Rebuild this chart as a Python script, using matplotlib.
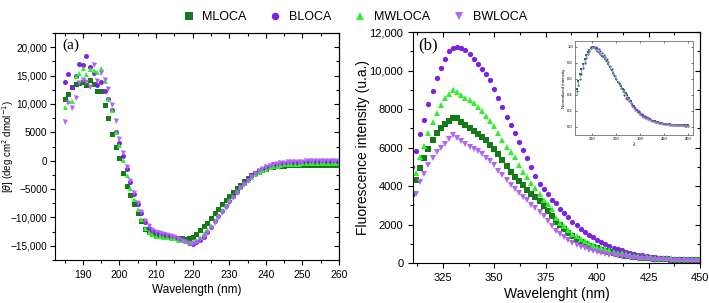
import numpy as np
import matplotlib
matplotlib.use('Agg')
import matplotlib.pyplot as plt
from matplotlib.ticker import MultipleLocator, FuncFormatter

plt.rcParams['font.family'] = ['Liberation Sans', 'DejaVu Sans']

#%% CD spectra (185-260 nm, 1 nm step)
cd_wl = np.arange(185, 261, 1)

cd_mloca = [10800, 11700, 13000, 13600, 13700, 13900, 13400, 14200, 13500, 12200,
            12200, 9900, 7600, 4700, 2500, 500, -2100, -4400, -6100, -7700,
            -9200, -10600, -12000, -12600, -13000, -13100, -13200, -13200, -13300, -13400,
            -13500, -13600, -13700, -13800, -13700, -13400, -12900, -12300, -11600, -10900,
            -10100, -9300, -8500, -7700, -6900, -6200, -5500, -4800, -4200, -3600,
            -3100, -2600, -2200, -1900, -1600, -1400, -1200, -1100, -1000, -900,
            -850, -800, -780, -760, -740, -720, -710, -700, -700, -700,
            -700, -700, -700, -700, -700, -700]
cd_bloca = [13800, 15300, 13000, 14900, 17000, 16900, 18500, 16600, 15500, 13300,
            13800, 12300, 10800, 8900, 5000, 3100, 800, -1500, -3700, -5800,
            -7600, -9300, -10800, -11800, -12300, -12600, -12800, -12900, -13100, -13300,
            -13500, -13700, -13900, -14200, -14500, -14600, -14400, -14000, -13400, -12600,
            -11700, -10700, -9800, -8900, -8000, -7100, -6300, -5500, -4700, -4000,
            -3300, -2700, -2200, -1800, -1400, -1100, -850, -650, -500, -400,
            -330, -280, -240, -210, -190, -170, -150, -140, -130, -120,
            -120, -120, -120, -130, -130, -130]
cd_mwloca = [9500, 10500, 10600, 15000, 15500, 16300, 15300, 16200, 15900, 15600,
             16400, 14000, 10900, 9000, 5000, 2700, 200, -2500, -4800, -6800,
             -8600, -10300, -11800, -12600, -13000, -13200, -13300, -13400, -13500, -13600,
             -13700, -13900, -14000, -14200, -14300, -14200, -13900, -13400, -12800, -12100,
             -11300, -10500, -9600, -8700, -7800, -7000, -6200, -5400, -4700, -4000,
             -3400, -2900, -2400, -2000, -1700, -1400, -1200, -1000, -850, -750,
             -650, -600, -550, -520, -500, -480, -460, -450, -440, -430,
             -420, -420, -410, -410, -400, -400]
cd_bwloca = [6800, 10200, 9300, 11000, 13700, 14300, 13900, 13000, 16800, 14000,
             15500, 14200, 12600, 9800, 7000, 3900, 1300, -1200, -3600, -5700,
             -7500, -9100, -10600, -11600, -12200, -12600, -12800, -12900, -13100, -13300,
             -13500, -13800, -14100, -14400, -14600, -14600, -14400, -14000, -13400, -12700,
             -11900, -11000, -10100, -9200, -8300, -7400, -6500, -5700, -4900, -4200,
             -3500, -2900, -2400, -1900, -1500, -1200, -950, -750, -600, -480,
             -380, -300, -250, -200, -170, -150, -130, -110, -100, -100,
             -100, -100, -100, -110, -110, -110]

#%% fluorescence spectra (310-450 nm, 2 nm step)
fl_wl = np.arange(310, 451, 2)

fl_mloca = [3600, 4300, 4950, 5450, 5950, 6400, 6750, 7000, 7250, 7400,
            7550, 7550, 7350, 7150, 7000, 6850, 6700, 6550, 6380, 6150,
            5900, 5650, 5350, 5050, 4750, 4470, 4250, 4050, 3800, 3600,
            3430, 3200, 2950, 2700, 2450, 2150, 1950, 1750, 1550, 1380,
            1230, 1100, 990, 900, 830, 760, 690, 630, 570, 520,
            470, 430, 390, 355, 325, 300, 275, 255, 235, 220,
            205, 195, 185, 175, 165, 160, 155, 150, 145, 140, 135]
fl_bloca = [5000, 5800, 6700, 7450, 8250, 8950, 9600, 10150, 10600, 11000,
            11200, 11250, 11150, 11050, 10850, 10600, 10350, 10100, 9800, 9500,
            9050, 8550, 8100, 7600, 7150, 6750, 6300, 5850, 5450, 5000,
            4500, 4100, 3850, 3600, 3300, 3100, 2800, 2600, 2400, 2150,
            1950, 1750, 1600, 1450, 1350, 1200, 1100, 980, 880, 790,
            710, 650, 590, 540, 490, 440, 400, 360, 330, 300,
            270, 250, 235, 220, 210, 200, 190, 185, 180, 175, 170]
fl_mwloca = [3800, 4700, 5500, 6100, 6750, 7350, 7800, 8200, 8550, 8800,
             8980, 8900, 8750, 8600, 8460, 8300, 8100, 7900, 7650, 7400,
             7100, 6750, 6400, 6050, 5750, 5500, 5100, 4750, 4450, 4150,
             3900, 3600, 3300, 3050, 2800, 2350, 2100, 1900, 1700, 1520,
             1380, 1250, 1130, 1020, 930, 850, 780, 710, 650, 590,
             540, 495, 455, 420, 390, 360, 335, 315, 300, 285,
             270, 260, 250, 240, 232, 225, 220, 215, 210, 205, 200]
fl_bwloca = [2900, 3600, 4200, 4650, 5100, 5450, 5750, 6000, 6200, 6450,
             6640, 6500, 6350, 6200, 6050, 5950, 5800, 5650, 5450, 5300,
             5100, 4800, 4550, 4300, 4050, 3850, 3650, 3450, 3250, 3000,
             2850, 2650, 2450, 2200, 1900, 1650, 1500, 1350, 1200, 1060,
             950, 850, 770, 700, 640, 590, 530, 480, 435, 395,
             360, 330, 300, 275, 250, 230, 210, 195, 180, 165,
             155, 145, 135, 128, 122, 116, 112, 108, 104, 100, 97]

names = ['MLOCA', 'BLOCA', 'MWLOCA', 'BWLOCA']
colors = ['#167A16', '#7A22E0', '#33EE2E', '#B066F0']
markers = ['s', 'o', '^', 'v']
cd_data = [cd_mloca, cd_bloca, cd_mwloca, cd_bwloca]
fl_data = [fl_mloca, fl_bloca, fl_mwloca, fl_bwloca]


def thousands(v, pos):
    if abs(v) >= 10000:
        s = '{:,.0f}'.format(abs(v))
    else:
        s = '{:.0f}'.format(abs(v))
    return ('\u2212' + s) if v < 0 else s


def mirror_ticks(ax, xmaj, xmin, ymaj, ymin):
    ax.tick_params(which='both', direction='out', labelsize=7.5, width=0.8)
    ax.tick_params(which='major', length=3.5)
    ax.tick_params(which='minor', length=2)
    top = ax.secondary_xaxis('top')
    top.xaxis.set_major_locator(MultipleLocator(xmaj))
    top.xaxis.set_minor_locator(MultipleLocator(xmin))
    top.tick_params(which='both', direction='in', labeltop=False, width=0.8)
    top.tick_params(which='major', length=3.5)
    top.tick_params(which='minor', length=2)
    right = ax.secondary_yaxis('right')
    right.yaxis.set_major_locator(MultipleLocator(ymaj))
    right.yaxis.set_minor_locator(MultipleLocator(ymin))
    right.tick_params(which='both', direction='in', labelright=False, width=0.8)
    right.tick_params(which='major', length=3.5)
    right.tick_params(which='minor', length=2)


fig = plt.figure(figsize=(7.09, 3.03), dpi=100)

#%% (a) CD
ax1 = fig.add_axes([0.0776, 0.142, 0.4006, 0.749])
for y, c, m, n in zip(cd_data, colors, markers, names):
    ax1.plot(cd_wl, y, linestyle='none', marker=m, color=c, markersize=3.6,
             markeredgewidth=0, label=n)
ax1.set_xlim(182.4, 260)
ax1.set_ylim(-17500, 22500)
ax1.xaxis.set_major_locator(MultipleLocator(10))
ax1.xaxis.set_minor_locator(MultipleLocator(5))
ax1.yaxis.set_major_locator(MultipleLocator(5000))
ax1.yaxis.set_minor_locator(MultipleLocator(2500))
ax1.yaxis.set_major_formatter(FuncFormatter(thousands))
mirror_ticks(ax1, 10, 5, 5000, 2500)
ax1.tick_params(axis='y', labelsize=7.2, pad=2)
ax1.set_xlabel('Wavelength (nm)', fontsize=8.5, labelpad=3)
ax1.set_ylabel(r'[$\theta$] (deg cm$^2$ dmol$^{-1}$)', fontsize=7)
ax1.yaxis.set_label_coords(-0.137, 0.5)
ax1.text(0.025, 0.975, '(a)', transform=ax1.transAxes, ha='left', va='top',
         fontsize=11, family='Liberation Serif')

#%% (b) fluorescence
ax2 = fig.add_axes([0.5825, 0.132, 0.4048, 0.762])
for y, c, m in zip(fl_data, colors, markers):
    ax2.plot(fl_wl, y, linestyle='none', marker=m, color=c, markersize=3.8,
             markeredgewidth=0)
ax2.set_xlim(310.5, 450)
ax2.set_ylim(0, 12000)
ax2.xaxis.set_major_locator(MultipleLocator(25))
ax2.xaxis.set_minor_locator(MultipleLocator(12.5))
ax2.yaxis.set_major_locator(MultipleLocator(2000))
ax2.yaxis.set_minor_locator(MultipleLocator(1000))
ax2.yaxis.set_major_formatter(FuncFormatter(thousands))
mirror_ticks(ax2, 25, 12.5, 2000, 1000)
ax2.tick_params(labelsize=8)
ax2.set_xlabel('Wavelenght (nm)', fontsize=10, labelpad=3)
ax2.set_ylabel('Fluorescence intensity (u.a.)', fontsize=10)
ax2.yaxis.set_label_coords(-0.15, 0.5)
ax2.text(0.02, 0.975, '(b)', transform=ax2.transAxes, ha='left', va='top',
         fontsize=12, family='Liberation Serif')

#%% inset: normalized
axin = fig.add_axes([0.811, 0.555, 0.166, 0.31])
for y, c, m in zip(fl_data, colors, markers):
    yn = np.array(y) / max(y)
    axin.plot(fl_wl, yn, linestyle='none', marker=m, color=c, markersize=1.6,
              markeredgewidth=0)
axin.set_xlim(308, 456)
axin.set_ylim(-0.1, 1.07)
axin.xaxis.set_major_locator(MultipleLocator(30))
axin.yaxis.set_major_locator(MultipleLocator(0.2))
axin.tick_params(which='both', direction='in', labelsize=3, length=1.5, width=0.4,
                 top=True, right=True, pad=1.5)
for s in axin.spines.values():
    s.set_linewidth(0.5)
    s.set_color('#555555')
axin.set_xlabel('\u03bb', fontsize=3.5, labelpad=1)
axin.set_ylabel('Normalized intensity', fontsize=3.2, labelpad=1)

#%% legend
fig.legend(loc='upper center', bbox_to_anchor=(0.5, 1.0), ncol=4, frameon=False,
           fontsize=9, markerscale=1.5, handletextpad=0.6, columnspacing=1.8,
           handlelength=1.0)

fig.savefig('out.png', dpi=100)
